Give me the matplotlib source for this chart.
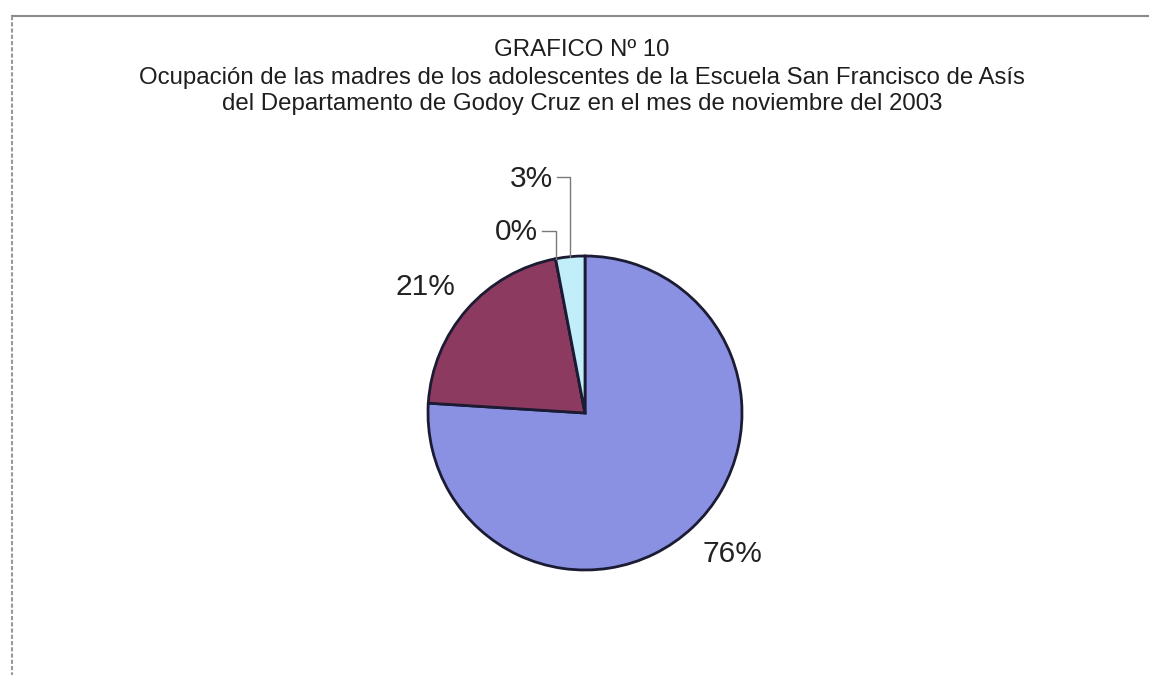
"""Pie chart: ocupación de las madres (Gráfico Nº 10)."""

import numpy as np
import matplotlib.pyplot as plt

plt.rcParams['font.family'] = ['Liberation Sans', 'DejaVu Sans']

W, H = 1149, 675

# data
values = [76, 21, 0, 3]
pct_labels = ["76%", "21%", "0%", "3%"]
colors = ["#8a90e2", "#8c3a5f", "#fbfbd8", "#c2eef9"]

title_lines = [
    "GRAFICO Nº 10",
    "Ocupación de las madres de los adolescentes de la Escuela San Francisco de Asís",
    "del Departamento de Godoy Cruz en el mes de noviembre del 2003",
]


def py(y):
    # pixel row (top-down) -> data y (bottom-up)
    return H - y


fig = plt.figure(figsize=(W / 100, H / 100), dpi=100)
fig.patch.set_facecolor("white")
ax = fig.add_axes([0, 0, 1, 1])

cx, cy, R = 585, py(413), 157
wedges, _ = ax.pie(values, colors=colors, startangle=90, counterclock=False,
                   radius=R, center=(cx, cy),
                   wedgeprops=dict(edgecolor="#1b1b33", linewidth=2))
ax.set_xlim(0, W)
ax.set_ylim(0, H)
ax.set_aspect("equal")
ax.axis("off")

# scanned page frame
ax.plot([12, W], [py(16), py(16)], color="#8a8a8a", lw=1.5)
ax.plot([12, 12], [py(16), 0], color="#9a9a9a", lw=1.5, ls=(0, (2, 1)))

# title
for txt, y in zip(title_lines, [50, 78, 104]):
    ax.text(582, py(y), txt, ha="center", va="center", fontsize=17.3,
            color="#1e1e1e")

# label placement (pixel coords), leader line row for the moved ones
label_pos = {0: (732, 554), 1: (425, 287), 2: (516, 232), 3: (531, 179)}
leader_y = {2: 231, 3: 177}

for i, w in enumerate(wedges):
    tx, ty = label_pos[i]
    ax.text(tx, py(ty), pct_labels[i], ha="center", va="center",
            fontsize=21.5, color="#222222")
    if i in leader_y:
        mid = np.deg2rad((w.theta1 + w.theta2) / 2)
        ex, ey = cx + R * np.cos(mid), cy + R * np.sin(mid)
        x0 = tx + 26
        ly = py(leader_y[i])
        ax.plot([x0, ex, ex], [ly, ly, ey], color="#7a7a7a", lw=1)

fig.savefig("out.png", dpi=100)
